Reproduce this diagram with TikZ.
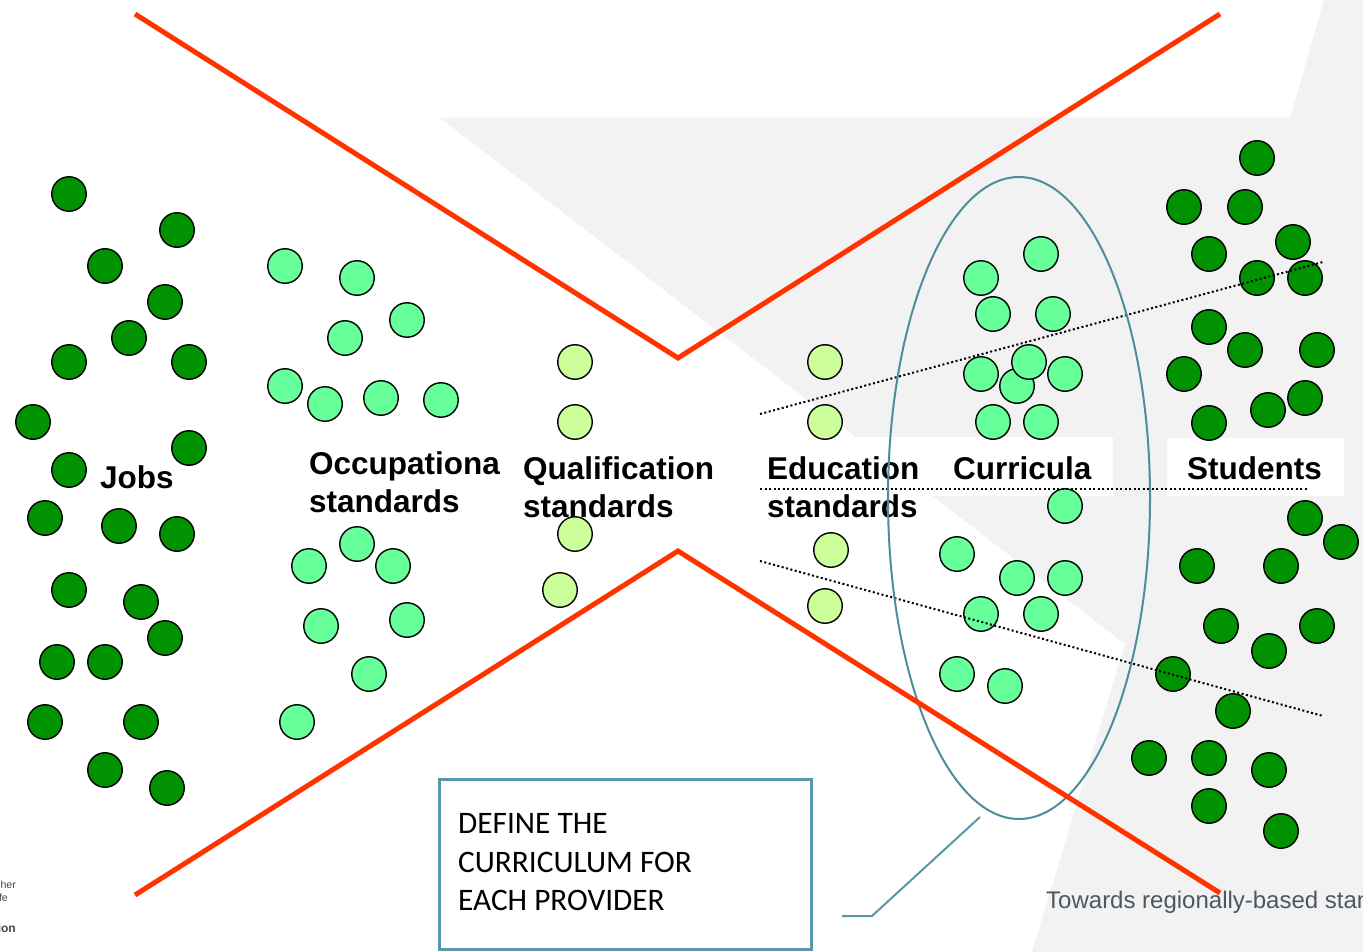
\documentclass[tikz,border=0pt]{standalone}
\usepackage{fontspec}
\setmainfont{Liberation Sans}
\newfontfamily\carl{Carlito}
\definecolor{dg}{RGB}{0,146,0}
\definecolor{lg}{HTML}{66FF99}
\definecolor{pg}{HTML}{CCFF99}
\definecolor{redl}{HTML}{FF3300}
\definecolor{tealc}{HTML}{4F8C9C}
\definecolor{boxc}{HTML}{5B95A8}
\definecolor{bgc}{HTML}{F2F2F2}
\definecolor{towc}{HTML}{4B5763}
\begin{document}
\begin{tikzpicture}[x=1pt,y=-1pt,
  ball/.style={circle, draw=black, line width=1.4pt, minimum size=34.5pt, inner sep=0pt},
  jobball/.style={ball, fill=dg},
  occball/.style={ball, fill=lg},
  qualball/.style={ball, fill=pg},
  lbl/.style={anchor=base west, inner sep=0pt, font=\fontsize{31.5}{38}\selectfont\bfseries},
  boxtxt/.style={anchor=base west, inner sep=0pt, font=\carl\fontsize{31.3}{38}\selectfont},
  dotline/.style={line width=2pt, dash pattern=on 2pt off 2.5pt},
  redline/.style={redl, line width=5pt},
]
\useasboundingbox (0,0) rectangle (1363,952);
% background
\fill[bgc] (1324,0) -- (1290,118) -- (440,118) -- (1125,644) -- (1032,952) -- (1363,952) -- (1363,0) -- cycle;
\fill[white] (850,437) rectangle (1113,496);
\fill[white] (1167,438) rectangle (1344,496);

% Jobs
\foreach \x/\y [count=\i] in {69/194,177/230,105/266,165/302,129/338,69/362,189/362,33/422,189/448,69/470,45/518,119/526,177/534,69/590,141/602,165/638,57/662,105/662,45/722,141/722,105/770,167/788}
  \node[jobball] (job\i) at (\x,\y) {};
% Occupational standards
\foreach \x/\y [count=\i] in {285/266,357/278,407/320,345/338,285/386,325/404,381/398,441/400,357/544,309/566,393/566,321/626,407/620,369/674,297/722}
  \node[occball] (occ\i) at (\x,\y) {};
% Qualification standards
\foreach \x/\y [count=\i] in {575/362,575/422,575/534,560/590}
  \node[qualball] (qual\i) at (\x,\y) {};
% Education standards
\foreach \x/\y [count=\i] in {825/362,825/422,831/550,825/606}
  \node[qualball] (edu\i) at (\x,\y) {};
% Curricula
\foreach \x/\y [count=\i] in {981/278,1041/254,993/314,1053/314,981/374,1065/374,1017/386,1029/362,993/422,1041/422,1065/506,957/554,1017/578,1065/578,981/614,1041/614,957/674,1005/686}
  \node[occball] (cur\i) at (\x,\y) {};
% Students
\foreach \x/\y [count=\i] in {1257/158,1184/207,1245/207,1209/254,1293/242,1257/278,1305/278,1209/327,1245/350,1317/350,1184/374,1305/398,1268/410,1209/423,1305/518,1341/542,1197/566,1281/566,1221/626,1317/626,1269/651,1173/674,1233/711,1149/758,1209/758,1269/770,1209/806,1281/831}
  \node[jobball] (stu\i) at (\x,\y) {};

% labels
\node[lbl] (ljobs) at (100,488) {Jobs};
\node[lbl] (locc1) at (309,474) {Occupationa};
\node[lbl] (locc2) at (309,512) {standards};
\node[lbl] (lqual1) at (523,479) {Qualification};
\node[lbl] (lqual2) at (523,517) {standards};
\node[lbl] (ledu1) at (767,479) {Education};
\node[lbl] (ledu2) at (767,517) {standards};
\node[lbl] (lcur) at (953,479) {Curricula};
\node[lbl] (lstu) at (1187,479) {Students};

% dotted lines
\coordinate (d1a) at (760,414); \coordinate (d1b) at (1323,262);
\coordinate (d2a) at (760,489); \coordinate (d2b) at (1308,489);
\coordinate (d3a) at (760,561); \coordinate (d3b) at (1323,716);
\draw[dotline] (d1a) -- (d1b);
\draw[dotline] (d2a) -- (d2b);
\draw[dotline] (d3a) -- (d3b);

% ellipse around curricula
\draw[tealc, line width=2pt] (1019,498) ellipse [x radius=131pt, y radius=321pt];

% red lines
\coordinate (ra) at (135,14); \coordinate (rb) at (678,358); \coordinate (rc) at (1220,14);
\coordinate (rd) at (135,895); \coordinate (re) at (678,551); \coordinate (rf) at (1220,893);
\draw[redline] (ra) -- (rb) -- (rc);
\draw[redline] (rd) -- (re) -- (rf);

% callout box
\node[draw=boxc, fill=white, line width=2.5pt, minimum width=372pt, minimum height=170pt, anchor=north west, inner sep=0pt] (callout) at (438,778) {};
\node[boxtxt] (bt1) at (458,833) {DEFINE THE};
\node[boxtxt] (bt2) at (458,872) {CURRICULUM FOR};
\node[boxtxt] (bt3) at (458,910) {EACH PROVIDER};
\coordinate (k1) at (980,817); \coordinate (k2) at (842,916);
\draw[boxc, line width=2pt] (k1) -- (872,916) -- (k2);

% footer texts
\node[anchor=base west, inner sep=0pt, text=towc, font=\fontsize{24}{28}\selectfont] (tow) at (1046,908) {Towards regionally-based standards};
\node[anchor=base east, inner sep=0pt, text=towc!80!black, font=\fontsize{10.5}{12}\selectfont] (s1) at (16,888) {her};
\node[anchor=base east, inner sep=0pt, text=towc!80!black, font=\fontsize{10.5}{12}\selectfont] (s2) at (8,901) {fe};
\node[anchor=base east, inner sep=0pt, text=towc!80!black, font=\fontsize{12}{14}\selectfont\bfseries] (s3) at (16,932) {ion};
\end{tikzpicture}
\end{document}
